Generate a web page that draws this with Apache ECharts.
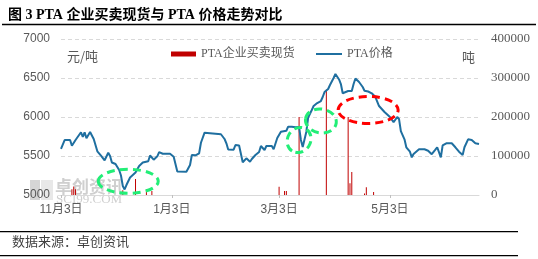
<!DOCTYPE html>
<html><head><meta charset="utf-8">
<script src="https://cdn.jsdelivr.net/npm/echarts@6/dist/echarts.min.js"></script>
<style>html,body{margin:0;padding:0;background:#fff}#c{width:538px;height:259px}</style>
</head><body><div id="c"></div>
<script>
// ---- data ----
const priceDates = [
'2022-11-03','2022-11-05','2022-11-08','2022-11-09','2022-11-11','2022-11-14','2022-11-15','2022-11-16','2022-11-17','2022-11-19',
'2022-11-21','2022-11-23','2022-11-25','2022-11-27','2022-11-29','2022-11-30','2022-12-01','2022-12-03','2022-12-05','2022-12-06',
'2022-12-07','2022-12-08','2022-12-09','2022-12-11','2022-12-14','2022-12-16','2022-12-18','2022-12-21','2022-12-22','2022-12-24',
'2022-12-26','2022-12-27','2022-12-29','2022-12-30','2023-01-02','2023-01-04','2023-01-06','2023-01-11','2023-01-13','2023-01-14',
'2023-01-16','2023-01-18','2023-01-19','2023-01-21','2023-01-30','2023-02-01','2023-02-02','2023-02-03','2023-02-06','2023-02-07',
'2023-02-09','2023-02-11','2023-02-13','2023-02-15','2023-02-16','2023-02-18','2023-02-20','2023-02-21','2023-02-23','2023-02-24',
'2023-02-27','2023-02-28','2023-03-02','2023-03-04','2023-03-05','2023-03-07','2023-03-08','2023-03-10','2023-03-12','2023-03-14',
'2023-03-15','2023-03-16','2023-03-18','2023-03-19','2023-03-21','2023-03-22','2023-03-24','2023-03-26','2023-03-27','2023-03-28',
'2023-03-30','2023-03-31','2023-04-02','2023-04-03','2023-04-05','2023-04-06','2023-04-07','2023-04-08','2023-04-10','2023-04-12',
'2023-04-13','2023-04-14','2023-04-16','2023-04-18','2023-04-19','2023-04-21','2023-04-23','2023-04-25','2023-04-27','2023-04-28',
'2023-04-30','2023-05-03','2023-05-05','2023-05-07','2023-05-08','2023-05-09','2023-05-11','2023-05-12','2023-05-14','2023-05-15',
'2023-05-16','2023-05-17','2023-05-19','2023-05-20','2023-05-22','2023-05-24','2023-05-26','2023-05-28','2023-05-29','2023-05-31',
'2023-06-01','2023-06-03','2023-06-06','2023-06-08','2023-06-10','2023-06-12','2023-06-13','2023-06-15','2023-06-17','2023-06-19',
'2023-06-21'];
const prices = [
5590,5705,5705,5632,5705,5804,5744,5804,5727,5808,
5718,5560,5506,5445,5542,5500,5417,5397,5320,5250,
5115,5071,5128,5224,5288,5372,5417,5433,5506,5453,
5496,5549,5529,5547,5529,5491,5301,5299,5385,5513,
5509,5535,5670,5799,5779,5718,5663,5583,5581,5641,
5635,5420,5470,5427,5461,5513,5551,5628,5577,5628,
5628,5586,5731,5812,5833,5824,5876,5876,5868,5872,
5705,5615,5812,5994,6090,6141,6179,6205,6256,6320,
6359,6410,6500,6551,6481,6423,6304,6282,6333,6333,
6423,6494,6449,6385,6337,6327,6304,6256,6141,6128,
6064,6000,5932,6000,5974,5820,5714,5612,5555,5483,
5526,5519,5586,5564,5586,5568,5523,5581,5612,5483,
5635,5663,5663,5612,5555,5513,5612,5714,5705,5663,
5654];
const barDates = ['2022-11-09','2022-11-10','2022-11-11','2022-12-07','2022-12-14','2022-12-20','2022-12-23',
'2023-03-03','2023-03-06','2023-03-07','2023-03-14','2023-03-29','2023-04-10','2023-04-11','2023-04-12',
'2023-04-19','2023-04-20','2023-04-24'];
const barValues = [15000,22000,15000,12000,41000,15000,10000,
21000,10000,10000,200000,270000,200000,30000,59000,
4000,20000,8000];
const xTickDates = ['2022-11-03','2023-01-03','2023-03-03','2023-05-03'];
const xRange = ['2022-11-03','2023-06-21'];
const barName = 'PTA企业买卖现货';
const lineName = 'PTA价格';
const titleText = '图 3 PTA 企业买卖现货与 PTA 价格走势对比';
const sourceText = '数据来源：卓创资讯';
// annotation centres (data coordinates: date, price)
const noteCentres = [['2022-12-10',5176],['2023-03-14',5705],['2023-03-26',5949],['2023-04-21',6090]];

const DAY = 86400000;
function dayNum(s){const p=s.split('-').map(Number);return Math.round(Date.UTC(p[0],p[1]-1,p[2])/DAY);}
const lineData = priceDates.map((d,i)=>[dayNum(d),prices[i]]);
const barData = barDates.map((d,i)=>[dayNum(d),barValues[i]]);
const xTicks = xTickDates.map(dayNum);

const chart = echarts.init(document.getElementById('c'),null,{renderer:'canvas'});
const grey='#595959';
const blue='#1f6fa0';
const legendText={color:grey,fontSize:12,fontFamily:'"Liberation Serif","Noto Sans CJK SC"'};
const option = {
  animation:false,
  grid:{left:61,right:59,top:39,bottom:64},
  legend:[
    {left:166,top:43,itemWidth:25,itemHeight:5,textStyle:legendText,
     data:[{name:barName,icon:'rect'}]},
    {left:311,top:43,itemWidth:26,itemHeight:2,textStyle:legendText,
     data:[{name:lineName,icon:'rect',itemStyle:{color:blue}}]}
  ],
  xAxis:{type:'value',min:dayNum(xRange[0]),max:dayNum(xRange[1]),
    axisLine:{show:true,onZero:false,lineStyle:{color:'#d9d9d9',width:1}},
    axisTick:{show:true,customValues:xTicks,length:3,lineStyle:{color:'#bfbfbf'}},
    axisLabel:{customValues:xTicks,color:grey,fontSize:12,margin:9,
      fontFamily:'"Liberation Sans","Noto Sans CJK SC"',
      formatter:function(v){const d=new Date(v*DAY);return (d.getUTCMonth()+1)+'月'+d.getUTCDate()+'日';}},
    splitLine:{show:false}},
  yAxis:[
    {type:'value',min:5000,max:7000,interval:500,axisLine:{show:false},axisTick:{show:false},
     axisLabel:{color:grey,fontSize:12,margin:11,fontFamily:'"Liberation Sans"',formatter:v=>String(v)},
     splitLine:{lineStyle:{color:'#d9d9d9',type:[4,3]}}},
    {type:'value',min:0,max:400000,interval:100000,position:'right',axisLine:{show:false},axisTick:{show:false},
     axisLabel:{color:grey,fontSize:13,margin:12,fontFamily:'"Liberation Serif"',formatter:v=>String(v)},
     splitLine:{show:false}}
  ],
  series:[
    {name:barName,type:'bar',yAxisIndex:1,data:barData,barWidth:1,itemStyle:{color:'#c00000'},z:2},
    {name:lineName,type:'line',yAxisIndex:0,data:lineData,symbol:'none',showSymbol:false,
     lineStyle:{color:blue,width:2},itemStyle:{color:blue},z:3}
  ]
};
chart.setOption(option);

function txt(text,x,y,opts){
  return {type:'text',z:50,style:Object.assign({text:text,x:x,y:y,fill:'#000',
    align:'left',textAlign:'left',verticalAlign:'middle',textVerticalAlign:'middle'},opts)};
}
function hline(x1,x2,y,w){return {type:'line',z:50,shape:{x1:x1,y1:y,x2:x2,y2:y},style:{stroke:'#000',lineWidth:w}};}

const noteStyle=[
  {rx:30,ry:12,rot:0,color:'#22ee77'},
  {rx:13,ry:11.5,rot:1.0,color:'#22ee77'},
  {rx:15.5,ry:12,rot:-0.15,color:'#22ee77'},
  {rx:30,ry:13.5,rot:0,color:'#ff0000'}
];
const notes = noteCentres.map((c,i)=>{
  const p = chart.convertToPixel({gridIndex:0},[dayNum(c[0]),c[1]]);
  const s = noteStyle[i];
  return {type:'ellipse',z:60,x:p[0],y:p[1],rotation:s.rot,shape:{cx:0,cy:0,rx:s.rx,ry:s.ry},
    style:{fill:'none',stroke:s.color,lineWidth:3,lineDash:[8,5]}};
});

const graphics = [
  txt(titleText,8,15,{fontSize:14,fontWeight:'bold',fontFamily:'"Liberation Serif","Noto Sans CJK SC"',fill:'#000'}),
  hline(2,536,24.5,1.5),
  hline(0,518,231.7,1.3),
  hline(0,518,255.7,1.3),
  txt(sourceText,12,241.5,{fontSize:13,fontFamily:'"Noto Sans CJK SC"',fill:'#404040'}),
  txt('元/吨',67,56,{fontSize:13,fontFamily:'"Noto Sans CJK SC"',fill:grey}),
  txt('吨',462,57,{fontSize:13,fontFamily:'"Noto Sans CJK SC"',fill:grey}),
  {type:'rect',z:0,shape:{x:30,y:180,width:10,height:20},style:{fill:'#d6d6d6'}},
  {type:'rect',z:0,shape:{x:41,y:180,width:12,height:20},style:{fill:'#e8e8e8'}},
  Object.assign(txt('卓创资讯',55,187,{fontSize:17,fontWeight:'bold',fontFamily:'"Noto Sans CJK SC"',fill:'#cfcfcf'}),{z:0}),
  Object.assign(txt('SCI99.COM',56,199.5,{fontSize:13,fontFamily:'"Liberation Serif"',fill:'#cfcfcf'}),{z:0})
].concat(notes);
chart.setOption({graphic:{elements:graphics}});
</script></body></html>
